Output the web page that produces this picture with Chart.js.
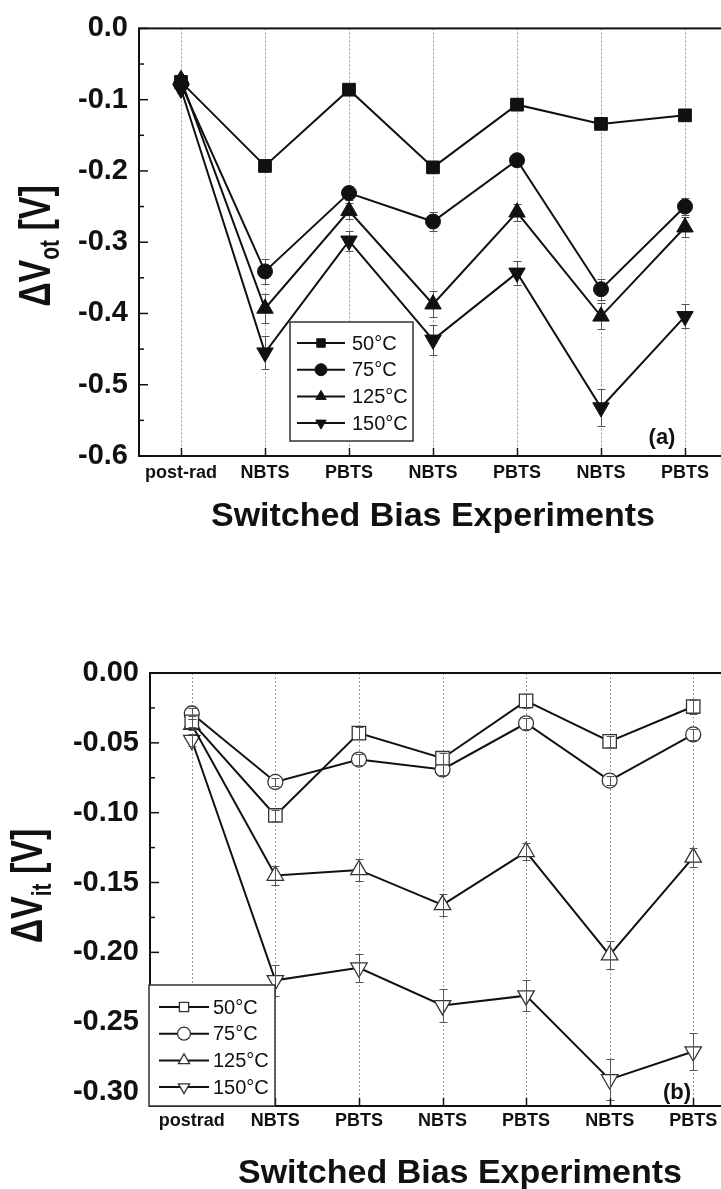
<!DOCTYPE html>
<html>
<head>
<meta charset="utf-8">
<script src="https://cdn.jsdelivr.net/npm/chart.js@4.4.1/dist/chart.umd.min.js"></script>
<style>
  html, body { margin: 0; padding: 0; background: #fff; overflow: hidden; width: 721px; height: 1189px; }
  canvas { position: absolute; left: 0; }
  #chartA { top: 0; }
  #chartB { top: 630px; }
</style>
</head>
<body>
<canvas id="chartA" width="760" height="560"></canvas>
<canvas id="chartB" width="760" height="600"></canvas>
<script>
// x categories
const stepsA = ['post-rad', 'NBTS', 'PBTS', 'NBTS', 'PBTS', 'NBTS', 'PBTS'];
const stepsB = ['postrad', 'NBTS', 'PBTS', 'NBTS', 'PBTS', 'NBTS', 'PBTS'];
const temps = ['50°C', '75°C', '125°C', '150°C'];

// (a) delta V_ot [V]
const vot50  = [-0.075, -0.193, -0.086, -0.195, -0.107, -0.134, -0.122];
const vot75  = [-0.078, -0.341, -0.231, -0.271, -0.185, -0.366, -0.250];
const vot125 = [-0.072, -0.393, -0.256, -0.387, -0.258, -0.404, -0.279];
const vot150 = [-0.085, -0.455, -0.298, -0.437, -0.343, -0.532, -0.404];
const votErr50  = [0.004, 0.005, 0.004, 0.005, 0.004, 0.005, 0.004];
const votErr75  = [0.005, 0.018, 0.010, 0.013, 0.006, 0.015, 0.012];
const votErr125 = [0.005, 0.020, 0.011, 0.018, 0.012, 0.018, 0.014];
const votErr150 = [0.005, 0.023, 0.014, 0.021, 0.017, 0.026, 0.017];

// (b) delta V_it [V]
const vit50  = [-0.035, -0.102, -0.043, -0.061, -0.020, -0.049, -0.024];
const vit75  = [-0.029, -0.078, -0.062, -0.069, -0.036, -0.077, -0.044];
const vit125 = [-0.037, -0.145, -0.141, -0.166, -0.128, -0.202, -0.132];
const vit150 = [-0.048, -0.220, -0.211, -0.238, -0.231, -0.291, -0.271];
const vitErr50  = [0.004, 0.004, 0.004, 0.004, 0.005, 0.004, 0.005];
const vitErr75  = [0.004, 0.003, 0.004, 0.004, 0.004, 0.003, 0.004];
const vitErr125 = [0.004, 0.007, 0.008, 0.008, 0.006, 0.010, 0.007];
const vitErr150 = [0.004, 0.011, 0.010, 0.012, 0.011, 0.015, 0.013];

const xTitle = 'Switched Bias Experiments';
const FONT = '"Liberation Sans", Arial, sans-serif';
const markers = [
  { style: 'rect', rot: 0 },
  { style: 'circle', rot: 0 },
  { style: 'triangle', rot: 0 },
  { style: 'triangle', rot: 180 }
];

function drawMarker(ctx, style, rot, x, y, r) {
  ctx.beginPath();
  if (style === 'circle') {
    ctx.arc(x, y, r, 0, Math.PI * 2);
  } else if (style === 'rect') {
    const s = r * Math.SQRT1_2;
    ctx.rect(x - s, y - s, 2 * s, 2 * s);
  } else {
    const d = rot === 180 ? -1 : 1;
    ctx.moveTo(x, y - d * r);
    ctx.lineTo(x + r * 0.866, y + d * r / 2);
    ctx.lineTo(x - r * 0.866, y + d * r / 2);
    ctx.closePath();
  }
  ctx.fill();
  ctx.stroke();
}

function line(ctx, x1, y1, x2, y2) {
  ctx.beginPath(); ctx.moveTo(x1, y1); ctx.lineTo(x2, y2); ctx.stroke();
}

function drawErrors(chart) {
  const { ctx, scales: { y } } = chart;
  ctx.save();
  ctx.strokeStyle = '#555';
  ctx.lineWidth = 1;
  chart.data.datasets.forEach((ds, di) => {
    chart.getDatasetMeta(di).data.forEach((pt, i) => {
      const v = ds.data[i], e = ds.errorBars[i];
      const px = Math.round(pt.x) + 0.5;
      const hi = Math.round(y.getPixelForValue(v + e)) + 0.5;
      const lo = Math.round(y.getPixelForValue(v - e)) + 0.5;
      line(ctx, px, hi, px, lo);
      line(ctx, px - 4, hi, px + 4, hi);
      line(ctx, px - 4, lo, px + 4, lo);
    });
  });
  ctx.restore();
}

// frame, inward ticks, dotted category lines, error bars, legend, titles
const frame = {
  id: 'frame',
  beforeDatasetsDraw(chart, args, o) {
    const { ctx, chartArea: a, scales: { x } } = chart;
    ctx.save();
    ctx.strokeStyle = '#9a9a9a';
    ctx.lineWidth = 1;
    ctx.setLineDash([2, 2]);
    x.ticks.forEach((t, i) => {
      const px = Math.round(x.getPixelForTick(i)) + 0.5;
      line(ctx, px, a.top, px, a.bottom);
    });
    ctx.restore();
    if (!o.errOnTop) drawErrors(chart);
  },
  afterDatasetsDraw(chart, args, o) {
    const { ctx, chartArea: a, scales: { x, y } } = chart;
    if (o.errOnTop) drawErrors(chart);
    ctx.save();
    ctx.strokeStyle = '#111';
    ctx.lineWidth = 2;
    ctx.strokeRect(a.left, a.top, a.right - a.left, a.bottom - a.top);
    ctx.lineWidth = 1.5;
    x.ticks.forEach((t, i) => {
      const px = Math.round(x.getPixelForTick(i)) + 0.5;
      line(ctx, px, a.bottom, px, a.bottom - 8);
    });
    const tv = y.ticks.map(t => t.value);
    tv.forEach((v, i) => {
      const py = y.getPixelForValue(v);
      line(ctx, a.left, py, a.left + 9, py);
      if (i < tv.length - 1) {
        const pm = y.getPixelForValue((v + tv[i + 1]) / 2);
        line(ctx, a.left, pm, a.left + 5, pm);
      }
    });

    // legend
    const L = o.legend;
    ctx.fillStyle = '#fff';
    ctx.fillRect(L.x, L.y, L.w, L.h);
    ctx.strokeStyle = '#333';
    ctx.lineWidth = 1.5;
    ctx.strokeRect(L.x, L.y, L.w, L.h);
    chart.data.datasets.forEach((ds, i) => {
      const cy = L.y + L.first + i * L.row;
      ctx.strokeStyle = '#111';
      ctx.lineWidth = 2;
      line(ctx, L.x + L.lineFrom, cy, L.x + L.lineTo, cy);
      ctx.fillStyle = ds.pointBackgroundColor;
      ctx.strokeStyle = ds.pointBorderColor;
      ctx.lineWidth = ds.pointBorderWidth;
      drawMarker(ctx, markers[i].style, markers[i].rot, L.x + (L.lineFrom + L.lineTo) / 2, cy, L.r);
      ctx.fillStyle = '#111';
      ctx.font = '20px ' + FONT;
      ctx.textBaseline = 'middle';
      ctx.textAlign = 'left';
      ctx.fillText(ds.label, L.x + L.text, cy + 1);
    });

    // panel tag
    ctx.fillStyle = '#111';
    ctx.font = 'bold 22px ' + FONT;
    ctx.textAlign = 'center';
    ctx.textBaseline = 'middle';
    ctx.fillText(o.tag.text, o.tag.x, o.tag.y);

    // x title
    ctx.font = 'bold 34px ' + FONT;
    ctx.fillText(xTitle, o.xTitle.x, o.xTitle.y);

    // y title with subscript
    const T = o.yTitle;
    ctx.translate(T.x, T.y);
    ctx.rotate(-Math.PI / 2);
    ctx.scale(1, T.stretch);
    ctx.textAlign = 'left';
    ctx.textBaseline = 'alphabetic';
    const big = 'bold 34px ' + FONT, small = 'bold 21px ' + FONT;
    ctx.font = big;
    const w1 = ctx.measureText(T.main).width, w3 = ctx.measureText(T.tail).width;
    ctx.font = small;
    const w2 = ctx.measureText(T.sub).width;
    let cx = -(w1 + w2 + w3) / 2;
    ctx.font = big; ctx.fillText(T.main, cx, 0); cx += w1;
    ctx.font = small; ctx.fillText(T.sub, cx, T.shift); cx += w2;
    ctx.font = big; ctx.fillText(T.tail, cx, 0);
    ctx.restore();
  }
};

function makeSets(values, errors, filled, radii) {
  return values.map((vals, i) => ({
    label: temps[i],
    data: vals,
    errorBars: errors[i],
    borderColor: '#111',
    borderWidth: 2,
    tension: 0,
    pointStyle: markers[i].style,
    pointRotation: markers[i].rot,
    pointRadius: radii[i],
    pointHoverRadius: radii[i],
    pointBackgroundColor: filled ? '#111' : '#fff',
    pointBorderColor: filled ? '#111' : '#333',
    pointBorderWidth: filled ? 1 : 1.3
  }));
}

function makeChart(id, labels, datasets, yMin, decimals, geo, extra) {
  return new Chart(document.getElementById(id), {
    type: 'line',
    data: { labels: labels, datasets: datasets },
    plugins: [frame],
    options: {
      responsive: false,
      animation: false,
      layout: { padding: { top: geo.top, right: geo.right, left: 0, bottom: 0 } },
      plugins: { legend: { display: false }, tooltip: { enabled: false }, frame: extra },
      scales: {
        x: {
          type: 'category',
          offset: true,
          grid: { display: false, drawTicks: false },
          border: { display: false },
          ticks: {
            color: '#111', maxRotation: 0, autoSkip: false, padding: geo.xPad,
            font: { family: FONT, size: 18, weight: 'bold' }
          },
          afterFit: s => { s.height = geo.xHeight; }
        },
        y: {
          min: yMin, max: 0,
          grid: { display: false, drawTicks: false },
          border: { display: false },
          ticks: {
            stepSize: decimals === 1 ? 0.1 : 0.05,
            includeBounds: false,
            color: '#111', padding: 11,
            font: { family: FONT, size: 29, weight: 'bold' },
            callback: v => v.toFixed(decimals)
          },
          afterFit: s => { s.width = geo.yWidth; }
        }
      }
    }
  });
}

makeChart('chartA', stepsA,
  makeSets([vot50, vot75, vot125, vot150], [votErr50, votErr75, votErr125, votErr150], true, [9, 7.5, 9.5, 9.5]),
  -0.6, 1,
  { top: 24, right: 33, xPad: 6, xHeight: 104, yWidth: 139 },
  {
    errOnTop: false,
    legend: { x: 290, y: 322, w: 123, h: 119, first: 21, row: 26.7, lineFrom: 7, lineTo: 55, r: 6, text: 62 },
    tag: { text: '(a)', x: 662, y: 438 },
    xTitle: { x: 433, y: 517 },
    yTitle: { x: 50, y: 246, main: 'ΔV', sub: 'ot', tail: ' [V]', shift: 7, stretch: 1.3 }
  });

makeChart('chartB', stepsB,
  makeSets([vit50, vit75, vit125, vit150], [vitErr50, vitErr75, vitErr125, vitErr150], false, [9.5, 7.5, 9.5, 9.5]),
  -0.31, 2,
  { top: 43, right: 25, xPad: 4, xHeight: 124, yWidth: 150 },
  {
    errOnTop: true,
    legend: { x: 149, y: 355, w: 126, h: 121, first: 22, row: 26.7, lineFrom: 10, lineTo: 60, r: 6.5, text: 64 },
    tag: { text: '(b)', x: 677, y: 463 },
    xTitle: { x: 460, y: 544 },
    yTitle: { x: 42, y: 256, main: 'ΔV', sub: 'it', tail: ' [V]', shift: 7, stretch: 1.3 }
  });
</script>
</body>
</html>
